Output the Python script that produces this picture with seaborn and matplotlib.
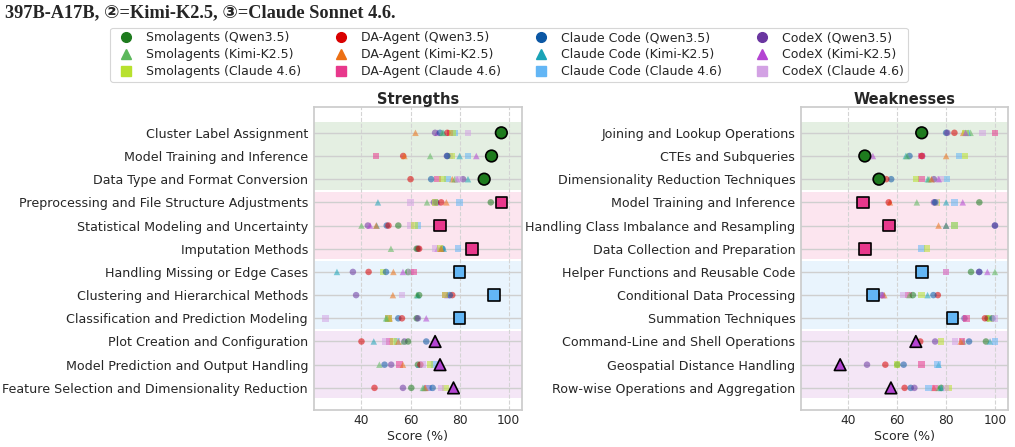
import numpy as np
import pandas as pd
import matplotlib
matplotlib.use('Agg')
import matplotlib.pyplot as plt
import seaborn as sns
from matplotlib.lines import Line2D

nan = np.nan

# series: framework x model
SERIES = [
    'Smolagents (Qwen3.5)', 'Smolagents (Kimi-K2.5)', 'Smolagents (Claude 4.6)',
    'DA-Agent (Qwen3.5)', 'DA-Agent (Kimi-K2.5)', 'DA-Agent (Claude 4.6)',
    'Claude Code (Qwen3.5)', 'Claude Code (Kimi-K2.5)', 'Claude Code (Claude 4.6)',
    'CodeX (Qwen3.5)', 'CodeX (Kimi-K2.5)', 'CodeX (Claude 4.6)',
]
COLORS = ['#1e7b1e', '#5cb85c', '#b8e12e',
          '#d90000', '#ec7014', '#e8388c',
          '#0b57a4', '#1aa3b6', '#63b6f5',
          '#6a36a0', '#b444d2', '#d3a2e4']
MARKERS = ['o', '^', 's'] * 4

# one highlighted series per band of three rows
HIGHLIGHT = ['Smolagents (Qwen3.5)', 'DA-Agent (Claude 4.6)',
             'Claude Code (Claude 4.6)', 'CodeX (Kimi-K2.5)']
BAND_COLORS = ['#e4efe2', '#fce5ef', '#e9f4fd', '#f4e6f6']

STRENGTH_CATS = [
    'Cluster Label Assignment', 'Model Training and Inference',
    'Data Type and Format Conversion', 'Preprocessing and File Structure Adjustments',
    'Statistical Modeling and Uncertainty', 'Imputation Methods',
    'Handling Missing or Edge Cases', 'Clustering and Hierarchical Methods',
    'Classification and Prediction Modeling', 'Plot Creation and Configuration',
    'Model Prediction and Output Handling', 'Feature Selection and Dimensionality Reduction',
]
WEAKNESS_CATS = [
    'Joining and Lookup Operations', 'CTEs and Subqueries',
    'Dimensionality Reduction Techniques', 'Model Training and Inference',
    'Handling Class Imbalance and Resampling', 'Data Collection and Preparation',
    'Helper Functions and Reusable Code', 'Conditional Data Processing',
    'Summation Techniques', 'Command-Line and Shell Operations',
    'Geospatial Distance Handling', 'Row-wise Operations and Aggregation',
]

# strengths scores (%)
s_smol_qwen = [97, 93, 90, 92.7, 55, 62.5, 59, 63.5, 62.5, 59, 63, 60.3]
s_smol_kimi = [73, 68, 78, 66.7, 40, 52, 59.6, 62.5, 50, 57, 47.3, 65]
s_smol_claude = [77, 76.6, 73, 70, 61.6, 72, 48.7, 74, 51, 53, 68, 74.3]
s_da_qwen = [75, 57, 60, 72.5, 51, 63.5, 42.9, 77, 56.5, 40, 64, 45.3]
s_da_kimi = [62, 57.5, 77, 74.6, 46, 72.5, 53, 52.8, 51.5, 55, 56.9, 66]
s_da_claude = [76, 46, 71, 97, 72, 85, 61.4, 74, 51, 51.5, 55.5, 67]
s_cc_qwen = [72, 75, 68.4, 70.5, 50.3, 73, 50, 76, 55, 66.4, 49.4, 69]
s_cc_kimi = [73.5, 80, 83.4, 46.7, 46.2, 73.5, 30, 63, 50.5, 45, 63.5, 65.5]
s_cc_claude = [78, 83.5, 75, 80, 63, 79.3, 80, 94, 80, 54.5, 69.8, 67.5]
s_cx_qwen = [70, 74.8, 81.4, 69.5, 42.6, 63, 36.5, 37.8, 63, 57.5, 52.1, 56.9]
s_cx_kimi = [71, 86.8, 79, 71, 43.5, 71, 56.9, 75, 66.4, 70, 72, 77.5]
s_cx_claude = [83.5, 76, 79.5, 60, 60, 70, 60, 56.6, 25.3, 49.8, 65, 72.5]

# weaknesses scores (%)
w_smol_qwen = [70, 46.7, 52.5, 93.6, nan, nan, 90.2, 66.4, 97, 96.3, 60, 78]
w_smol_kimi = [90, 64, 73, 68, 80, nan, 100, 65, nan, 87, nan, 77]
w_smol_claude = [88, 87.8, 67.6, 76.2, 83.4, 72.1, nan, 70, 98.2, 78, 59.9, 81]
w_da_qwen = [83.4, 70, 55.5, 56.5, nan, nan, nan, 76.6, 95.9, 69.4, 55.1, 63]
w_da_kimi = [87, 80, 74, 57, 76.9, nan, nan, 54.7, nan, 86, nan, 75]
w_da_claude = [100, 70, 70, 46, 56.6, 46.7, 80, 64.6, 88.4, 86.5, 70, 75.5]
w_cc_qwen = [80, 65, 57.5, 75.5, 100, nan, 93.6, 74.8, 99, 89.4, 62.6, 65.5]
w_cc_kimi = [89, 63.5, 72.5, 80, 80, nan, nan, 72.4, nan, 98, 76.9, 78]
w_cc_claude = [88.5, 85.3, 80.3, 83.4, 83.4, 70, 70.2, 50, 82.6, 100, 76.5, 72.8]
w_cx_qwen = [80.5, 70.2, 75, 75, 100, nan, 93.5, 53.7, 87.5, 75.5, 47.6, 67]
w_cx_kimi = [88, 50, 77, 86.8, 80, nan, 96.9, 54, nan, 67.6, 36.6, 57.4]
w_cx_claude = [95, 70, 77.6, 75.8, nan, nan, 80, 62.6, 100, 83.7, nan, 80]

STRENGTHS = [s_smol_qwen, s_smol_kimi, s_smol_claude, s_da_qwen, s_da_kimi, s_da_claude,
             s_cc_qwen, s_cc_kimi, s_cc_claude, s_cx_qwen, s_cx_kimi, s_cx_claude]
WEAKNESSES = [w_smol_qwen, w_smol_kimi, w_smol_claude, w_da_qwen, w_da_kimi, w_da_claude,
              w_cc_qwen, w_cc_kimi, w_cc_claude, w_cx_qwen, w_cx_kimi, w_cx_claude]

PALETTE = dict(zip(SERIES, COLORS))
MARKER_MAP = dict(zip(SERIES, MARKERS))


def build_frame(categories, values):
    """Long table: one row per (category, series) score"""
    rows = []
    for name, vals in zip(SERIES, values):
        for i, (cat, v) in enumerate(zip(categories, vals)):
            if np.isnan(v):
                continue
            rows.append({'category': cat, 'series': name, 'score': v,
                         'highlight': name == HIGHLIGHT[i // 3]})
    df = pd.DataFrame(rows)
    df['category'] = pd.Categorical(df['category'], categories=categories, ordered=True)
    return df.sort_values('category')


def draw_panel(ax, categories, values, title):
    df = build_frame(categories, values)

    # coloured bands behind each group of three rows
    for b, color in enumerate(BAND_COLORS):
        ax.axhspan(b * 3 - 0.45, b * 3 + 2.45, color=color, zorder=0, lw=0)

    small = df[~df['highlight']]
    big = df[df['highlight']]
    sns.scatterplot(data=small, x='score', y='category', hue='series', style='series',
                    palette=PALETTE, markers=MARKER_MAP, s=22, alpha=0.55,
                    linewidth=0, legend=False, ax=ax, zorder=3)
    sns.scatterplot(data=big, x='score', y='category', hue='series', style='series',
                    palette=PALETTE, markers=MARKER_MAP, s=70, edgecolor='black',
                    linewidth=1.2, legend=False, ax=ax, zorder=4)

    ax.set_xlim(20.5, 105.3)
    ax.set_ylim(11.95, -1.12)
    ax.set_xticks([40, 60, 80, 100])
    ax.grid(axis='y', color='#cfcfcf', linewidth=1, linestyle='-')
    ax.grid(axis='x', color='#d4d4d4', linewidth=0.8, linestyle='--')
    ax.set_axisbelow(True)
    ax.set_title(title, fontsize=10.5, fontweight='bold', pad=2)
    ax.set_xlabel('Score (%)', fontsize=9, labelpad=2)
    ax.set_ylabel('')
    ax.tick_params(axis='y', labelsize=9.05, length=0, pad=4)
    ax.tick_params(axis='x', labelsize=8.8, length=0, pad=3)
    for spine in ax.spines.values():
        spine.set_color('#cccccc')


def main():
    sns.set_theme(style='whitegrid')
    plt.rcParams['font.family'] = ['DejaVu Sans']

    fig = plt.figure(figsize=(10.15, 4.47), dpi=100)
    ax1 = fig.add_axes([0.309, 0.083, 0.205, 0.678])
    ax2 = fig.add_axes([0.789, 0.083, 0.204, 0.678])

    draw_panel(ax1, STRENGTH_CATS, STRENGTHS, 'Strengths')
    draw_panel(ax2, WEAKNESS_CATS, WEAKNESSES, 'Weaknesses')

    handles = [Line2D([], [], linestyle='none', marker=m, color=c, markersize=7)
               for m, c in zip(MARKERS, COLORS)]
    leg = fig.legend(handles, SERIES, loc='upper center', bbox_to_anchor=(0.5015, 0.952),
                     ncol=4, fontsize=9, frameon=True, handletextpad=0.6,
                     columnspacing=2.2, labelspacing=0.3, borderpad=0.3)
    leg.get_frame().set_edgecolor('#cccccc')
    leg.get_frame().set_linewidth(0.8)

    # caption line from the page, cut at the top
    fig.text(0.005, 0.972, '397B-A17B, \u2461=Kimi-K2.5, \u2462=Claude Sonnet 4.6.',
             fontsize=13.2, fontweight='bold', va='center', ha='left',
             family=['Liberation Serif', 'DejaVu Serif', 'DejaVu Sans'])

    fig.savefig('out.png', dpi=100)
    plt.close(fig)


if __name__ == '__main__':
    main()
